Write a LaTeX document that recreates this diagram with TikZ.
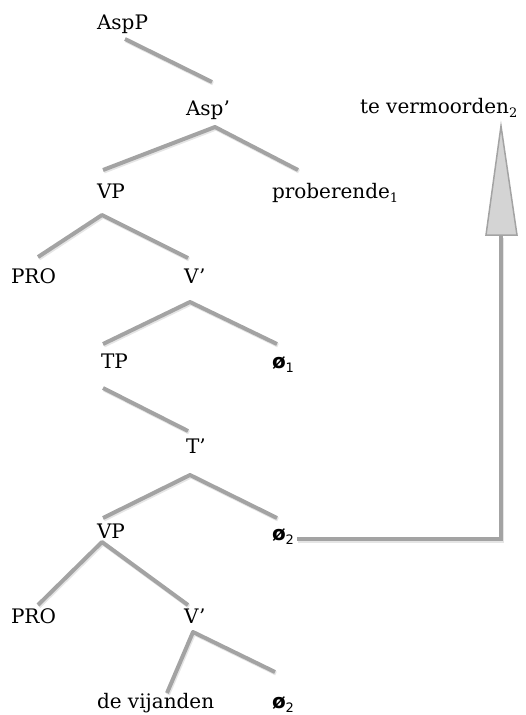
\documentclass[tikz,border=0pt]{standalone}
\usepackage{fontspec}
\setmainfont{DejaVu Serif}
\newfontfamily\symf{DejaVu Sans}
\definecolor{brc}{RGB}{163,163,163}
\definecolor{hdc}{RGB}{212,212,212}
\newcommand{\sbs}[1]{\raisebox{-0.22em}{\fontsize{13}{13}\selectfont #1}}
\newcommand{\nul}[1]{{\symf\bfseries ø}\sbs{\symf #1}}
\begin{document}
\begin{tikzpicture}[x=1pt,y=-1pt,
  lbl/.style={inner sep=0pt,outer sep=0pt,anchor=base west,font=\fontsize{20}{24}\selectfont},
  branch/.style={draw=brc,line width=4pt,line join=round,
    preaction={draw=black!10,line width=4pt,transform canvas={shift={(1pt,-1.5pt)}}}}]
\useasboundingbox (0,0) rectangle (525,715);
% labels
\node[lbl] (aspp) at (97,29) {AspP};
\node[lbl] (aspb) at (186,115) {Asp’};
\node[lbl] (vp1) at (97,198) {VP};
\node[lbl] (prob) at (272,198) {proberende\sbs{1}};
\node[lbl] (tev) at (360,113) {te vermoorden\sbs{2}};
\node[lbl] (pro1) at (11,283) {PRO};
\node[lbl] (v1) at (184,283) {V’};
\node[lbl] (tp) at (101,368) {TP};
\node[lbl] (n1) at (272,368) {\nul{1}};
\node[lbl] (tb) at (186,453) {T’};
\node[lbl] (vp2) at (97,538) {VP};
\node[lbl] (n2) at (272,540) {\nul{2}};
\node[lbl] (pro2) at (11,623) {PRO};
\node[lbl] (v2) at (184,623) {V’};
\node[lbl] (dev) at (97,708) {de vijanden};
\node[lbl] (n3) at (272,708) {\nul{2}};
% branch end points
\coordinate (a1) at (125,39);  \coordinate (a2) at (212,82);
\coordinate (b0) at (215,127); \coordinate (b1) at (103,170); \coordinate (b2) at (298,170);
\coordinate (c0) at (102,215); \coordinate (c1) at (38,257);  \coordinate (c2) at (188,258);
\coordinate (d0) at (190,302); \coordinate (d1) at (103,344); \coordinate (d2) at (277,344);
\coordinate (e1) at (103,388); \coordinate (e2) at (188,431);
\coordinate (f0) at (190,475); \coordinate (f1) at (103,518); \coordinate (f2) at (277,518);
\coordinate (g0) at (102,542); \coordinate (g1) at (38,605);  \coordinate (g2) at (188,605);
\coordinate (h0) at (193,632); \coordinate (h1) at (167,693); \coordinate (h2) at (275,672);
\coordinate (m0) at (297,539); \coordinate (m1) at (501,236);
\coordinate (tip) at (501,126); \coordinate (hl) at (486,235); \coordinate (hr) at (517,235);
% branches
\draw[branch] (a1) -- (a2);
\draw[branch] (b1) -- (b0) -- (b2);
\draw[branch] (c1) -- (c0) -- (c2);
\draw[branch] (d1) -- (d0) -- (d2);
\draw[branch] (e1) -- (e2);
\draw[branch] (f1) -- (f0) -- (f2);
\draw[branch] (g1) -- (g0) -- (g2);
\draw[branch] (h1) -- (h0) -- (h2);
% movement arrow
\draw[branch,line join=miter] (m0) -| (m1);
\filldraw[fill=hdc,draw=brc,line width=1.5pt,line join=miter] (tip) -- (hl) -- (hr) -- cycle;
\end{tikzpicture}
\end{document}
